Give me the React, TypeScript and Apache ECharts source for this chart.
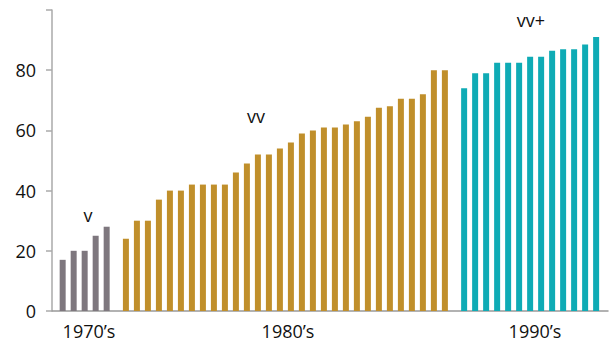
import React, { useEffect, useRef } from "react";
import * as echarts from "echarts";

const decadeLabels = ["1970\u2019s", "1980\u2019s", "1990\u2019s"];
const groupTags = ["v", "vv", "vv+"];
const yTicks = [0, 20, 40, 60, 80];

const values1970s = [17, 20, 20, 25, 28];
const values1980s = [
  24, 30, 30, 37, 40, 40, 42, 42, 42, 42,
  46, 49, 52, 52, 54, 56, 59, 60, 61, 61,
  62, 63, 64.5, 67.5, 68, 70.5, 70.5, 72, 80, 80,
];
const values1990s = [74, 79, 79, 82.5, 82.5, 82.5, 84.5, 84.5, 86.5, 87, 87, 88.5, 91];

const colors = ["#7e777e", "#c08f2b", "#0fabb5"];
const groupOffsets = [0, 5.75, 36.5];

const FONT = "'Open Sans', 'Noto Sans', sans-serif";
const TEXT = "#111";

export default function App() {
  const ref = useRef<HTMLDivElement>(null);
  useEffect(() => {
    if (!ref.current) return;
    const chart = echarts.init(ref.current, null, { renderer: "svg" });
    const groups = [values1970s, values1980s, values1990s];
    const series = groups.map((vals, g) => ({
      type: "bar",
      name: decadeLabels[g],
      barWidth: 6,
      barGap: "-100%",
      itemStyle: { color: colors[g] },
      data: vals.map((v, i) => [groupOffsets[g] + i, v]),
    }));
    const txt = (text: string, x: number, y: number) => ({
      type: "text",
      x,
      y,
      style: { text, fontSize: 18, fontFamily: FONT, fill: TEXT, align: "center", verticalAlign: "middle" },
    });
    chart.setOption({
      animation: false,
      grid: { left: 52, right: 1, top: 10, bottom: 32, containLabel: false, outerBoundsMode: "none" },
      xAxis: {
        type: "value",
        min: -0.97,
        max: 49.58,
        axisLine: { show: true, onZero: false, lineStyle: { color: "#999", width: 1.5 } },
        axisTick: { show: false },
        axisLabel: { show: false },
        splitLine: { show: false },
      },
      yAxis: {
        type: "value",
        min: 0,
        max: 100,
        interval: 20,
        axisLine: { show: true, onZero: false, lineStyle: { color: "#aaa", width: 1.5 } },
        axisTick: { show: true, length: 6, lineStyle: { color: "#aaa", width: 1.5 } },
        axisLabel: {
          margin: 16,
          color: TEXT,
          fontSize: 18,
          fontFamily: FONT,
          formatter: (v: number) => (yTicks.includes(v) ? String(v) : ""),
        },
        splitLine: { show: false },
      },
      series,
      graphic: [
        txt(decadeLabels[0], 89, 331),
        txt(decadeLabels[1], 288, 331),
        txt(decadeLabels[2], 535, 331),
        txt(groupTags[0], 88, 215),
        txt(groupTags[1], 256, 116),
        txt(groupTags[2], 531, 20),
      ],
    });
    return () => chart.dispose();
  }, []);
  return <div ref={ref} style={{ width: 609, height: 343, position: "absolute", left: 0, top: 0 }} />;
}
